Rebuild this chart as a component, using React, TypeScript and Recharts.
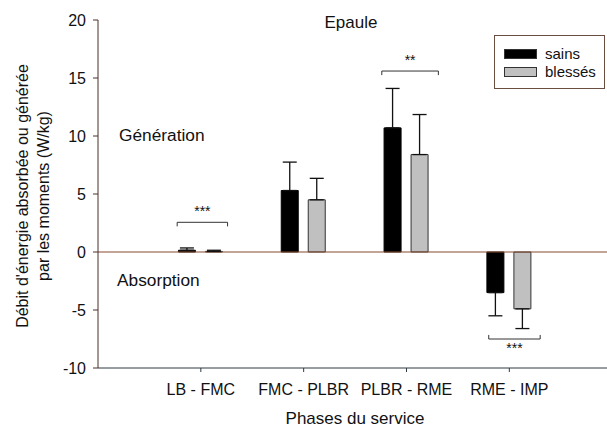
import {
  BarChart,
  Bar,
  XAxis,
  YAxis,
  ErrorBar,
  ReferenceLine,
  Legend,
} from 'recharts';

const phases = ['LB - FMC', 'FMC - PLBR', 'PLBR - RME', 'RME - IMP'];
const sains = [0.15, 5.3, 10.7, -3.5];
const blesses = [0.05, 4.5, 8.4, -4.9];
const sainsErr = [0.2, 2.45, 3.4, 2.0];
const blessesErr = [0.1, 1.85, 3.45, 1.7];
const yTicks = [-10, -5, 0, 5, 10, 15, 20];

// significance brackets (x from/to in category units, y level, label)
const sigLabels = ['***', '**', '***'];
const sigFrom = [0.77, 2.76, 3.8];
const sigTo = [1.26, 3.31, 4.3];
const sigLevel = [2.56, 15.6, -7.5];
const sigDir = [-1, -1, 1];

// one-sided error bars: upward for positive, downward for negative
const oneSided = (v: number, e: number) => (v >= 0 ? [0, e] : [e, 0]);

const data = phases.map((p, i) => ({
  x: i + 1,
  phase: p,
  sains: sains[i],
  blesses: blesses[i],
  sainsErr: oneSided(sains[i], sainsErr[i]),
  blessesErr: oneSided(blesses[i], blessesErr[i]),
}));

const FONT = '"Liberation Sans", Arial, sans-serif';

const LegendBox = () => (
  <div
    style={{
      width: 109,
      height: 52,
      border: '1px solid #6b4e42',
      boxSizing: 'content-box',
      fontFamily: FONT,
      fontSize: 15,
      color: '#111',
      position: 'relative',
    }}
  >
    {[
      { name: 'sains', fill: '#000' },
      { name: 'blessés', fill: '#c0c0c0' },
    ].map((it, i) => (
      <div
        key={it.name}
        style={{ position: 'absolute', left: 9, top: 13 + i * 18, display: 'flex', alignItems: 'center' }}
      >
        <div style={{ width: 31, height: 8, background: it.fill, border: '1px solid #333' }} />
        <span style={{ marginLeft: 8, lineHeight: '10px' }}>{it.name}</span>
      </div>
    ))}
  </div>
);

export default function App() {
  return (
    <div style={{ position: 'absolute', left: 0, top: 0, width: 607, height: 428, background: '#fff', fontFamily: FONT }}>
      <BarChart
        width={607}
        height={428}
        data={data}
        margin={{ top: 20, right: 0, left: 38, bottom: 30 }}
        barSize={17}
        barGap={10}
      >
        <XAxis
          dataKey="x"
          type="number"
          domain={[0, 4.95]}
          ticks={[1, 2, 3, 4]}
          tickFormatter={(v: number) => phases[v - 1] ?? ''}
          tick={{ fontSize: 16, fill: '#111', fontFamily: FONT }}
          tickSize={4}
          tickMargin={12}
          height={30}
          stroke="#2f3a40"
          allowDataOverflow
        />
        <YAxis
          domain={[-10, 20]}
          ticks={yTicks}
          tick={{ fontSize: 16, fill: '#111', fontFamily: FONT }}
          tickSize={5}
          tickMargin={7}
          width={60}
          stroke="#4a3128"
          allowDataOverflow
        />
        <ReferenceLine y={0} stroke="#8a4b2e" strokeWidth={1.2} />
        <Legend
          layout="vertical"
          align="center"
          verticalAlign="middle"
          wrapperStyle={{ left: 494, top: 35, width: 111, height: 54 }}
          content={() => <LegendBox />}
        />
        <Bar dataKey="sains" name="sains" fill="#000" stroke="#000" isAnimationActive={false}>
          <ErrorBar dataKey="sainsErr" width={7} stroke="#111" strokeWidth={1.3} isAnimationActive={false} />
        </Bar>
        <Bar dataKey="blesses" name="blessés" fill="#c0c0c0" stroke="#333" isAnimationActive={false}>
          <ErrorBar dataKey="blessesErr" width={7} stroke="#111" strokeWidth={1.3} isAnimationActive={false} />
        </Bar>
        {sigLabels.map((lab, i) => (
          <ReferenceLine
            key={`s${i}`}
            segment={[
              { x: sigFrom[i], y: sigLevel[i] },
              { x: sigTo[i], y: sigLevel[i] },
            ]}
            stroke="#333"
            strokeWidth={1}
            label={{
              value: lab,
              position: sigDir[i] < 0 ? 'top' : 'bottom',
              offset: sigDir[i] < 0 ? 6 : 4,
              fontSize: 14,
              fill: '#111',
            }}
          />
        ))}
        {sigLabels.map((_, i) =>
          [sigFrom[i], sigTo[i]].map((xv, j) => (
            <ReferenceLine
              key={`t${i}-${j}`}
              segment={[
                { x: xv, y: sigLevel[i] },
                { x: xv, y: sigLevel[i] + sigDir[i] * 0.35 },
              ]}
              stroke="#333"
              strokeWidth={1}
            />
          ))
        )}
      </BarChart>
      <svg
        width={607}
        height={428}
        style={{ position: 'absolute', left: 0, top: 0, pointerEvents: 'none' }}
        fontFamily={FONT}
        fill="#111"
      >
        <text x={351} y={22} fontSize={17} textAnchor="middle" dominantBaseline="central">
          Epaule
        </text>
        <text x={119} y={135} fontSize={17.3} dominantBaseline="central">
          Génération
        </text>
        <text x={117} y={280} fontSize={17.3} dominantBaseline="central">
          Absorption
        </text>
        <text x={355} y={418} fontSize={17} textAnchor="middle" dominantBaseline="central">
          Phases du service
        </text>
        <text transform="translate(22,196) rotate(-90)" fontSize={16} textAnchor="middle" dominantBaseline="central">
          Débit d'énergie absorbée ou générée
        </text>
        <text transform="translate(43,196) rotate(-90)" fontSize={16} textAnchor="middle" dominantBaseline="central">
          par les moments (W/kg)
        </text>
      </svg>
    </div>
  );
}
